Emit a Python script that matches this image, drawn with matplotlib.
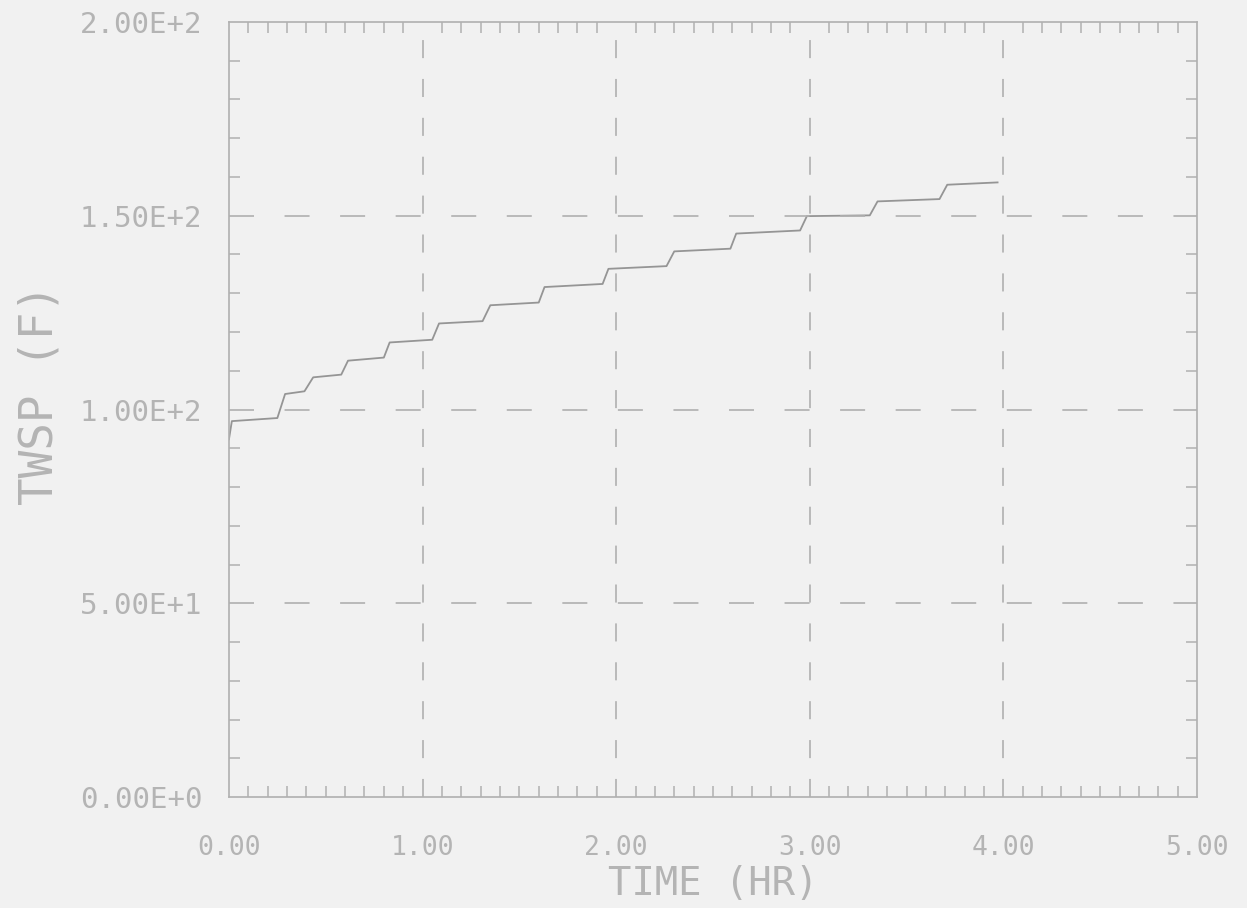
import numpy as np
import matplotlib
matplotlib.use("Agg")
import matplotlib.pyplot as plt
from matplotlib.ticker import MultipleLocator, FixedFormatter, FixedLocator

TIME_HR = [0.0, 0.015, 0.25, 0.29, 0.39, 0.435, 0.58, 0.615, 0.80, 0.83,
           1.05, 1.085, 1.31, 1.35, 1.60, 1.63, 1.93, 1.96, 2.26, 2.30,
           2.59, 2.62, 2.95, 2.985, 3.31, 3.35, 3.67, 3.71, 3.97]
TWSP_F = [92.3, 97.0, 97.8, 104.0, 104.7, 108.3, 109.0, 112.6, 113.4, 117.3,
          118.0, 122.2, 122.8, 126.9, 127.6, 131.6, 132.4, 136.3, 137.0, 140.8,
          141.5, 145.4, 146.2, 149.9, 150.1, 153.7, 154.3, 158.0, 158.6]

X_TICKS = [0, 1, 2, 3, 4, 5]
X_LABELS = ["0.00", "1.00", "2.00", "3.00", "4.00", "5.00"]
Y_TICKS = [0, 50, 100, 150, 200]
Y_LABELS = ["0.00E+0", "5.00E+1", "1.00E+2", "1.50E+2", "2.00E+2"]

BG = "#f1f1f1"
LINE = "#b0b0b0"
TEXT = "#b4b4b4"

plt.rcParams["lines.scale_dashes"] = False
plt.rcParams["font.family"] = ["DejaVu Sans Mono"]

fig = plt.figure(figsize=(12.47, 9.08), dpi=100, facecolor=BG)
ax = fig.add_axes([0.1836, 0.1222, 0.7763, 0.8536], facecolor=BG)

ax.plot(TIME_HR, TWSP_F, color="#959595", lw=1.3)

ax.set_xlim(0, 5)
ax.set_ylim(0, 200)

for t in X_TICKS[1:-1]:
    ax.axvline(t, color=LINE, lw=1.2, linestyle=(0, (13, 15)))
for v in Y_TICKS[1:-1]:
    ax.axhline(v, color=LINE, lw=1.2, linestyle=(0, (18, 22)))

ax.xaxis.set_major_locator(FixedLocator(X_TICKS))
ax.xaxis.set_major_formatter(FixedFormatter(X_LABELS))
ax.yaxis.set_major_locator(FixedLocator(Y_TICKS))
ax.yaxis.set_major_formatter(FixedFormatter(Y_LABELS))
ax.xaxis.set_minor_locator(MultipleLocator(0.1))
ax.yaxis.set_minor_locator(MultipleLocator(10))

ax.tick_params(which="both", direction="in", top=True, right=True,
               color=LINE, width=1.1)
ax.tick_params(which="major", length=0, labelcolor=TEXT)
ax.tick_params(axis="x", which="major", pad=37, labelsize=19)
ax.tick_params(axis="y", which="major", pad=19, labelsize=21)
ax.tick_params(which="minor", length=8)

for lbl in ax.get_xticklabels():
    lbl.set_verticalalignment("center")

for sp in ax.spines.values():
    sp.set_color(LINE)
    sp.set_linewidth(1.2)

ax.set_xlabel("TIME (HR)", fontsize=28, color=TEXT, va="center")
ax.xaxis.set_label_coords(0.5, -0.112)
ax.set_ylabel("TWSP (F)", fontsize=33, color=TEXT, va="center")
ax.yaxis.set_label_coords(-0.195, 0.52)

fig.savefig("out.png", dpi=100, facecolor=BG)
